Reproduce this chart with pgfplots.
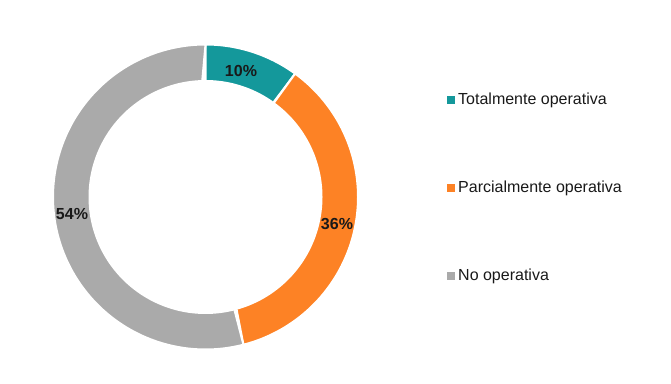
\documentclass[border=0pt]{standalone}
\usepackage{pgfplots}
\pgfplotsset{compat=1.18}
\usepackage{fontspec}
\setmainfont{Liberation Sans}
\definecolor{cTeal}{RGB}{20,152,155}
\definecolor{cOrange}{RGB}{253,130,37}
\definecolor{cGray}{RGB}{170,170,170}
% data (percent)
\def\vA{10}
\def\vB{36}
\def\vC{54}
\begin{document}
\begin{tikzpicture}
\pgfmathsetmacro{\aA}{0}
\pgfmathsetmacro{\aB}{3.6*\vA}
\pgfmathsetmacro{\aC}{3.6*(\vA+\vB)}
\pgfmathsetmacro{\aD}{3.6*(\vA+\vB+\vC)}
\def\cx{205.5}\def\cy{186}\def\R{152.5}\def\r{116}
\begin{axis}[
  x=1pt, y=1pt,
  xmin=0, xmax=671, ymin=0, ymax=383,
  hide axis, clip=false,
  axis line style={draw=none},
]
\path (axis cs:0,0) rectangle (axis cs:671,383);
\newcommand{\slice}[3]{%
  \addplot[fill=#3, draw=white, line width=2pt, domain=0:2, samples=241, variable=\t, line join=miter]
  ({\cx + (\t<1 ? \R : \r)*sin(\t<1 ? #1+(#2-#1)*\t : #2-(#2-#1)*(\t-1))},
   {\cy + (\t<1 ? \R : \r)*cos(\t<1 ? #1+(#2-#1)*\t : #2-(#2-#1)*(\t-1))}) -- cycle;}
\slice{\aA}{\aB}{cTeal}
\slice{\aB}{\aC}{cOrange}
\slice{\aC}{\aD}{cGray}
\node[font=\fontsize{16}{19}\selectfont\bfseries, text=black!90] at (axis cs:241,312) {10\%};
\node[font=\fontsize{16}{19}\selectfont\bfseries, text=black!90] at (axis cs:337,159) {36\%};
\node[font=\fontsize{16}{19}\selectfont\bfseries, text=black!90] at (axis cs:72,169) {54\%};
\addplot[only marks, mark=square*, mark size=3.5pt, color=cTeal] coordinates {(450.5,283)};
\addplot[only marks, mark=square*, mark size=3.5pt, color=cOrange] coordinates {(450.5,195)};
\addplot[only marks, mark=square*, mark size=3.5pt, color=cGray] coordinates {(450.5,107)};
\node[anchor=west, inner sep=0pt, font=\fontsize{16}{19}\selectfont, text=black!90] at (axis cs:458,283) {Totalmente operativa};
\node[anchor=west, inner sep=0pt, font=\fontsize{16}{19}\selectfont, text=black!90] at (axis cs:458,195) {Parcialmente operativa};
\node[anchor=west, inner sep=0pt, font=\fontsize{16}{19}\selectfont, text=black!90] at (axis cs:458,107) {No operativa};
\end{axis}
\end{tikzpicture}
\end{document}
